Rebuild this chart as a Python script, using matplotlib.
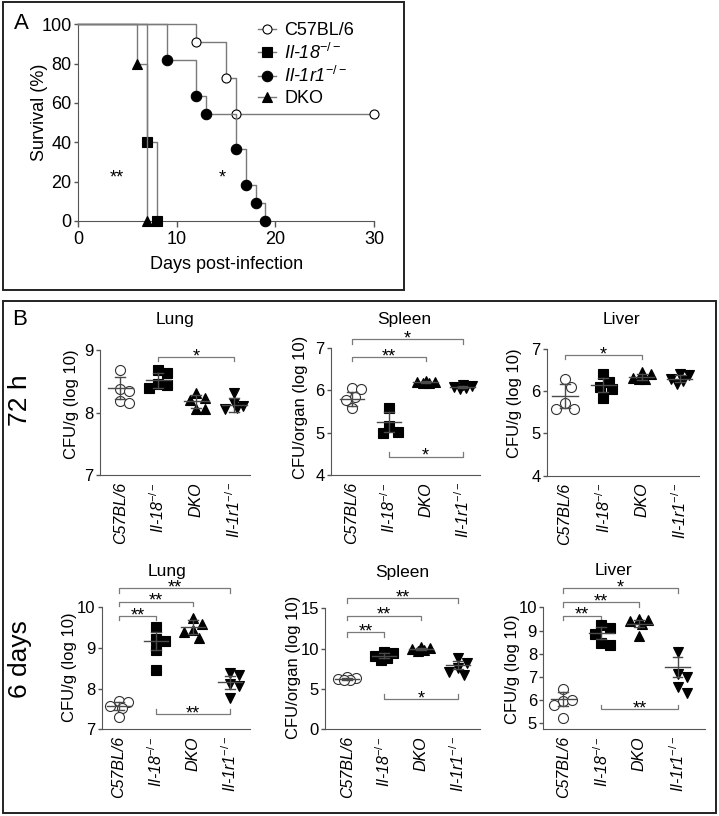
import numpy as np
import matplotlib.pyplot as plt
from matplotlib.lines import Line2D
from matplotlib.patches import Rectangle

plt.rcParams['font.family'] = ['Liberation Sans', 'DejaVu Sans']
plt.rcParams['mathtext.fontset'] = 'custom'
plt.rcParams['mathtext.rm'] = 'Liberation Sans'
plt.rcParams['mathtext.it'] = 'Liberation Sans:italic'
plt.rcParams['mathtext.bf'] = 'Liberation Sans:bold'
plt.rcParams['mathtext.default'] = 'it'

W, H = 719, 816

# Panel A - survival curves (days, % survival)
c57_days = [0, 12, 15, 16, 30]
c57_surv = [100, 90.9, 72.7, 54.5, 54.5]
il18_days = [0, 7, 8]
il18_surv = [100, 40, 0]
il1r1_days = [0, 9, 12, 13, 16, 17, 18, 19]
il1r1_surv = [100, 81.8, 63.6, 54.5, 36.4, 18.2, 9.1, 0]
dko_days = [0, 6, 7]
dko_surv = [100, 80, 0]

# Panel B - CFU (log 10); groups: C57BL/6, Il-18-/-, DKO, Il-1r1-/-
groups = ['C57BL/6', 'Il-18$^{-/-}$', 'DKO', 'Il-1r1$^{-/-}$']

lung72 = [[8.68, 8.37, 8.35, 8.19, 8.15],
          [8.68, 8.63, 8.45, 8.44, 8.39],
          [8.31, 8.23, 8.20, 8.06, 8.06],
          [8.32, 8.15, 8.10, 8.06, 8.08]]
lung72_mean = [8.39, 8.52, 8.18, 8.12]
lung72_err = [0.18, 0.12, 0.10, 0.11]

spleen72 = [[6.06, 6.03, 5.85, 5.77, 5.59],
            [5.58, 5.15, 5.02, 4.99],
            [6.22, 6.20, 6.19, 6.18, 6.17],
            [6.12, 6.10, 6.08, 6.05, 6.04]]
spleen72_mean = [5.79, 5.25, 6.19, 6.08]
spleen72_err = [0.16, 0.23, 0.02, 0.03]

liver72 = [[6.30, 6.11, 5.71, 5.59, 5.58],
           [6.40, 6.22, 6.10, 6.05, 5.83],
           [6.45, 6.40, 6.32, 6.30, 6.28],
           [6.40, 6.38, 6.30, 6.25, 6.18]]
liver72_mean = [5.89, 6.15, 6.34, 6.30]
liver72_err = [0.28, 0.17, 0.07, 0.08]

lung6d = [[7.70, 7.68, 7.58, 7.53, 7.31],
          [9.52, 9.22, 9.17, 8.95, 8.46],
          [9.73, 9.58, 9.45, 9.40, 9.25],
          [8.38, 8.34, 8.11, 8.06, 7.76]]
lung6d_mean = [7.57, 9.17, 9.52, 8.16]
lung6d_err = [0.10, 0.23, 0.18, 0.16]

spleen6d = [[6.45, 6.35, 6.25, 6.15, 6.05],
            [9.6, 9.4, 9.1, 8.9, 8.6],
            [10.2, 10.1, 10.0, 9.8, 9.7],
            [8.8, 8.2, 7.6, 7.1, 6.7]]
spleen6d_mean = [6.24, 9.13, 9.95, 7.97]
spleen6d_err = [0.15, 0.30, 0.15, 0.50]

liver6d = [[6.49, 5.98, 6.03, 5.80, 5.23],
           [9.23, 9.09, 8.87, 8.45, 8.37],
           [9.50, 9.45, 9.40, 9.30, 8.75],
           [8.08, 7.14, 7.00, 6.56, 6.30]]
liver6d_mean = [6.06, 8.90, 9.30, 7.43]
liver6d_err = [0.29, 0.25, 0.15, 0.43]

# significance brackets: (group a, group b, y, label, ticks up?)
lung72_sig = [(1, 3, 8.89, '*', False)]
spleen72_sig = [(0, 3, 7.21, '*', False), (0, 2, 6.79, '**', False), (1, 3, 4.43, '*', True)]
liver72_sig = [(0, 2, 6.86, '*', False)]
lung6d_sig = [(0, 3, 10.47, '**', False), (0, 2, 10.14, '**', False),
              (0, 1, 9.79, '**', False), (1, 3, 7.38, '**', True)]
spleen6d_sig = [(0, 3, 16.24, '**', False), (0, 2, 14.08, '**', False),
                (0, 1, 12.02, '**', False), (1, 3, 3.76, '*', True)]
liver6d_sig = [(0, 3, 10.82, '*', False), (0, 2, 10.22, '**', False),
               (0, 1, 9.64, '**', False), (1, 3, 5.62, '**', True)]

fig = plt.figure(figsize=(W / 100, H / 100), dpi=100)


def box(x0, x1, y0, y1):
    return [x0 / W, 1 - y1 / H, (x1 - x0) / W, (y1 - y0) / H]


def ftext(x, y, s, **kw):
    return fig.text(x / W, 1 - y / H, s, **kw)


spine_col = '#555555'
line_gray = '#7a7a7a'

# panel borders
fig.add_artist(Rectangle((3 / W, 1 - 290 / H), 400.5 / W, 288 / H, transform=fig.transFigure,
                         fill=False, ec='#222222', lw=1.4))
fig.add_artist(Rectangle((3 / W, 1 - 813 / H), 713 / W, 512 / H, transform=fig.transFigure,
                         fill=False, ec='#222222', lw=1.4))

# ---------------- Panel A ----------------
axA = fig.add_axes(box(78, 374, 24.3, 221))
curves = [(c57_days, c57_surv, 'o', 'white', 6.5),
          (il18_days, il18_surv, 's', 'black', 6.5),
          (il1r1_days, il1r1_surv, 'o', 'black', 7.5),
          (dko_days, dko_surv, '^', 'black', 6.5)]
for days, surv, mk, mfc, ms in curves:
    axA.step(days, surv, where='post', color=line_gray, lw=1, marker=mk, mfc=mfc,
             mec='black', mew=0.8, ms=ms, markevery=slice(1, None), clip_on=False, zorder=3)
axA.set_xlim(0, 30)
axA.set_ylim(0, 100)
axA.set_xticks([0, 10, 20, 30])
axA.set_yticks([0, 20, 40, 60, 80, 100])
for s in ['top', 'right']:
    axA.spines[s].set_visible(False)
for s in ['left', 'bottom']:
    axA.spines[s].set_color(spine_col)
axA.tick_params(axis='x', length=4, width=1, color=spine_col, labelsize=13, pad=3)
axA.tick_params(axis='y', length=3, width=1, color=spine_col, labelsize=13, pad=1.5)
axA.text(3.95, 19.5, '**', ha='center', va='baseline', fontsize=13)
axA.text(14.6, 19.5, '*', ha='center', va='baseline', fontsize=13)
ftext(227, 269, 'Days post-infection', ha='center', va='baseline', fontsize=13)
ftext(44, 112, 'Survival (%)', rotation=90, rotation_mode='anchor', ha='center',
      va='baseline', fontsize=13)
ftext(21, 29, 'A', ha='center', va='baseline', fontsize=16)

handles = [Line2D([], [], color=line_gray, lw=1, marker=mk, mfc=mfc, mec='black', mew=0.8, ms=ms)
           for _, _, mk, mfc, ms in curves]
leg = fig.legend(handles, ['C57BL/6', 'Il-18$^{-/-}$', 'Il-1r1$^{-/-}$', 'DKO'],
                 loc='upper left', bbox_to_anchor=(258 / W, 1 - 22 / H), frameon=False,
                 fontsize=13, handlelength=1.0, handletextpad=0.45, labelspacing=0.2,
                 borderpad=0, borderaxespad=0)
leg.get_texts()[1].set_fontstyle('italic')
leg.get_texts()[2].set_fontstyle('italic')

# ---------------- Panel B ----------------
ftext(20, 325, 'B', ha='center', va='baseline', fontsize=16)
ftext(27, 400, '72 h', rotation=90, rotation_mode='anchor', ha='center', va='baseline', fontsize=19)
ftext(27, 659, '6 days', rotation=90, rotation_mode='anchor', ha='center', va='baseline', fontsize=19)

markers = [('o', 'white', 7.2), ('s', 'black', 7.0), ('^', 'black', 7.8), ('v', 'black', 7.8)]


def swarm(vals, ppu_y, ppu_x, d=9.0, step=3.0, max_off=9.0):
    # spread points sideways a little, letting them overlap once the spread gets wide
    placed = []
    offs = []
    cands = [0.0]
    k = 1
    while k * step <= max_off:
        cands += [k * step, -k * step]
        k += 1
    for v in vals:
        y = v * ppu_y
        best, best_d = 0.0, -1.0
        for c in cands:
            md = min([np.hypot(c - px, y - py) for px, py in placed] or [1e9])
            if md >= d:
                best = c
                break
            if md > best_d:
                best, best_d = c, md
        placed.append((best, y))
        offs.append(best / ppu_x)
    return np.array(offs)


panels = [
    dict(rect=(100, 250, 350, 475), xlim=(-0.53, 3.42), ylim=(7, 9), yticks=[7, 8, 9],
         data=lung72, mean=lung72_mean, err=lung72_err, sig=lung72_sig,
         title='Lung', tpos=(175, 324), ylabel='CFU/g (log 10)', lpos=(76, 404)),
    dict(rect=(330.7, 480, 348, 475), xlim=(-0.57, 3.47), ylim=(4, 7), yticks=[4, 5, 6, 7],
         data=spleen72, mean=spleen72_mean, err=spleen72_err, sig=spleen72_sig,
         title='Spleen', tpos=(404, 324), ylabel='CFU/organ (log 10)', lpos=(305, 407)),
    dict(rect=(546.7, 699, 349, 475.7), xlim=(-0.48, 3.5), ylim=(4, 7), yticks=[4, 5, 6, 7],
         data=liver72, mean=liver72_mean, err=liver72_err, sig=liver72_sig,
         title='Liver', tpos=(621, 324), ylabel='CFU/g (log 10)', lpos=(519, 403)),
    dict(rect=(101.7, 250, 607.3, 729.3), xlim=(-0.47, 3.54), ylim=(7, 10), yticks=[7, 8, 9, 10],
         data=lung6d, mean=lung6d_mean, err=lung6d_err, sig=lung6d_sig,
         title='Lung', tpos=(167, 576), ylabel='CFU/g (log 10)', lpos=(74, 667)),
    dict(rect=(325, 480, 608.3, 729.3), xlim=(-0.6, 3.6), ylim=(0, 15), yticks=[0, 5, 10, 15],
         data=spleen6d, mean=spleen6d_mean, err=spleen6d_err, sig=spleen6d_sig,
         title='Spleen', tpos=(402, 577), ylabel='CFU/organ (log 10)', lpos=(298, 667)),
    dict(rect=(543.3, 705, 607.3, 729.3), xlim=(-0.52, 3.72), ylim=(4.75, 10), yticks=[5, 6, 7, 8, 9, 10],
         data=liver6d, mean=liver6d_mean, err=liver6d_err, sig=liver6d_sig,
         title='Liver', tpos=(613, 575), ylabel='CFU/g (log 10)', lpos=(517, 669)),
]

err_col = '#4a4a4a'
for p in panels:
    x0, x1, y0, y1 = p['rect']
    ax = fig.add_axes(box(x0, x1, y0, y1))
    ax.set_xlim(*p['xlim'])
    ax.set_ylim(*p['ylim'])
    ppu_x = (x1 - x0) / (p['xlim'][1] - p['xlim'][0])
    ppu_y = (y1 - y0) / (p['ylim'][1] - p['ylim'][0])
    for i, vals in enumerate(p['data']):
        mk, mfc, ms = markers[i]
        offs = swarm(vals, ppu_y, ppu_x)
        ax.plot(i + offs, vals, ls='none', marker=mk, mfc=mfc, mec='black' if mfc == 'black' else '#333333',
                mew=0.8, ms=ms, clip_on=False, zorder=3)
        m, e = p['mean'][i], p['err'][i]
        ax.plot([i - 0.33, i + 0.33], [m, m], color=err_col, lw=1, zorder=4)
        ax.plot([i, i], [m - e, m + e], color=err_col, lw=1, zorder=4)
        ax.plot([i - 0.13, i + 0.13], [m + e, m + e], color=err_col, lw=1, zorder=4)
        ax.plot([i - 0.13, i + 0.13], [m - e, m - e], color=err_col, lw=1, zorder=4)
    tick = 4.5 / ppu_y
    for a, b, yb, lab, up in p['sig']:
        t = tick if up else -tick
        ax.plot([a, a, b, b], [yb + t, yb, yb, yb + t], color=line_gray, lw=0.9, clip_on=False)
        ax.annotate(lab, ((a + b) / 2, yb), xytext=(0, -3), textcoords='offset points',
                    ha='center', va='baseline', fontsize=13, annotation_clip=False)
    ax.set_yticks(p['yticks'])
    ax.set_xticks(range(4))
    ax.set_xticklabels(groups, rotation=90, fontstyle='italic', fontsize=11.5)
    for s in ['top', 'right']:
        ax.spines[s].set_visible(False)
    for s in ['left', 'bottom']:
        ax.spines[s].set_color(spine_col)
    ax.tick_params(axis='x', length=0, pad=5)
    ax.tick_params(axis='y', length=3, width=1, color=spine_col, labelsize=12, pad=1.5)
    ftext(p['tpos'][0], p['tpos'][1], p['title'], ha='center', va='baseline', fontsize=12.5)
    ftext(p['lpos'][0], p['lpos'][1], p['ylabel'], rotation=90, rotation_mode='anchor',
          ha='center', va='baseline', fontsize=12)

fig.savefig('out.png', dpi=100)
